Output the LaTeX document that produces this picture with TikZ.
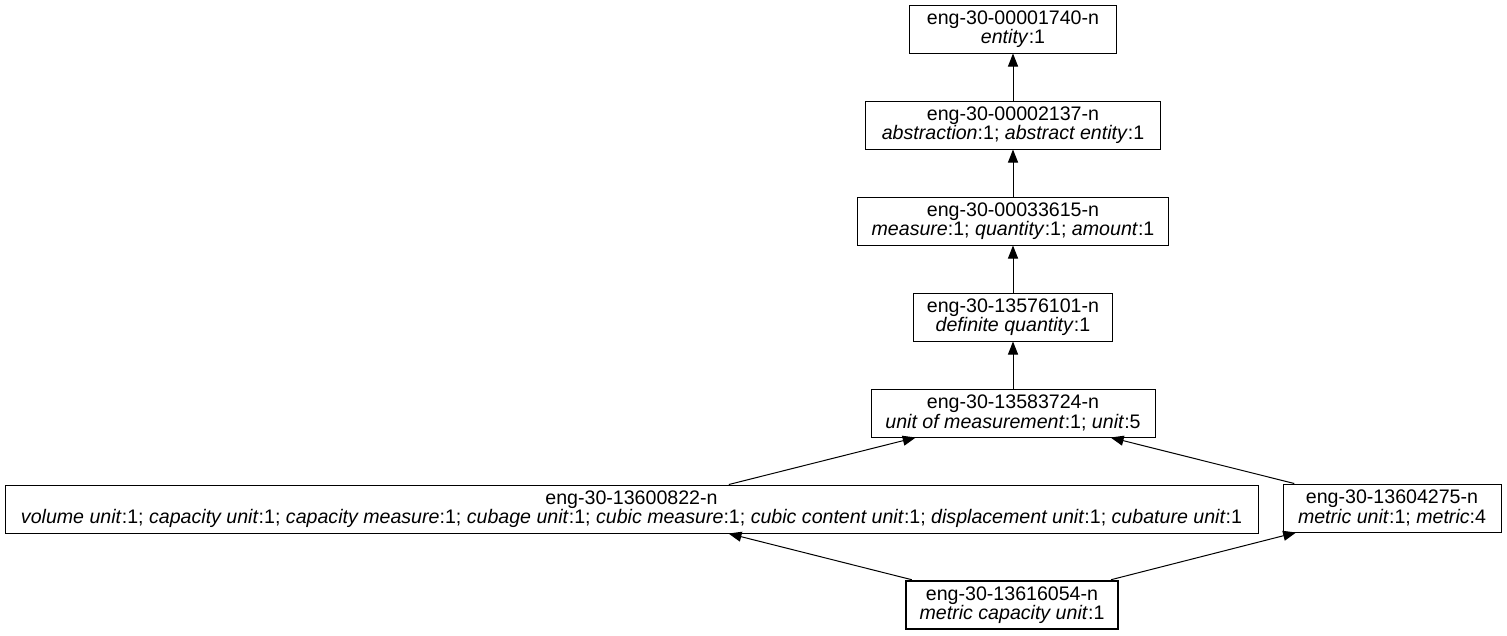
\documentclass[tikz,border=0pt]{standalone}
\usepackage{fontspec}
\setmainfont{Liberation Sans}
\usepackage{tikz}
\usetikzlibrary{arrows.meta}

\begin{document}
\begin{tikzpicture}[x=1pt,y=-1pt,>={Triangle[length=13pt,width=10pt]}]
\tikzset{
  synset/.style={draw, line width=1pt, minimum height=48pt, inner xsep=6pt,
    align=center, font=\fontsize{19.6}{17.5}\selectfont},
  leaf/.style={synset, line width=2.6pt},
  hyper/.style={->, line width=1pt}
}
\useasboundingbox (0,0) rectangle (1507,635);

% Draw synsets
\node[synset, minimum width=207pt] (entity) at (1013,29) {eng-30-00001740-n\\ \textit{entity}:1};
\node[synset, minimum width=295pt] (abstraction) at (1013,125) {eng-30-00002137-n\\ \textit{abstraction}:1; \textit{abstract entity}:1};
\node[synset, minimum width=311pt] (measure) at (1013,221) {eng-30-00033615-n\\ \textit{measure}:1; \textit{quantity}:1; \textit{amount}:1};
\node[synset, minimum width=199pt] (definite) at (1013,317) {eng-30-13576101-n\\ \textit{definite quantity}:1};
\node[synset, minimum width=284pt] (unit) at (1013,413) {eng-30-13583724-n\\ \textit{unit of measurement}:1; \textit{unit}:5};
\node[synset, minimum width=1253pt] (volume) at (631.5,509) {eng-30-13600822-n\\ \textit{volume unit}:1; \textit{capacity unit}:1; \textit{capacity measure}:1; \textit{cubage unit}:1; \textit{cubic measure}:1; \textit{cubic content unit}:1; \textit{displacement unit}:1; \textit{cubature unit}:1};
\node[synset, minimum width=218pt] (metric) at (1392,508) {eng-30-13604275-n\\ \textit{metric unit}:1; \textit{metric}:4};
\node[leaf, minimum width=212pt] (capacity) at (1012,605) {eng-30-13616054-n\\ \textit{metric capacity unit}:1};

% Draw hypernym links
\draw[hyper] (abstraction) -- (entity);
\draw[hyper] (measure) -- (abstraction);
\draw[hyper] (definite) -- (measure);
\draw[hyper] (unit) -- (definite);
\draw[hyper] (volume) -- (unit);
\draw[hyper] (metric) -- (unit);
\draw[hyper] (capacity) -- (volume);
\draw[hyper] (capacity) -- (metric);

\end{tikzpicture}
\end{document}
